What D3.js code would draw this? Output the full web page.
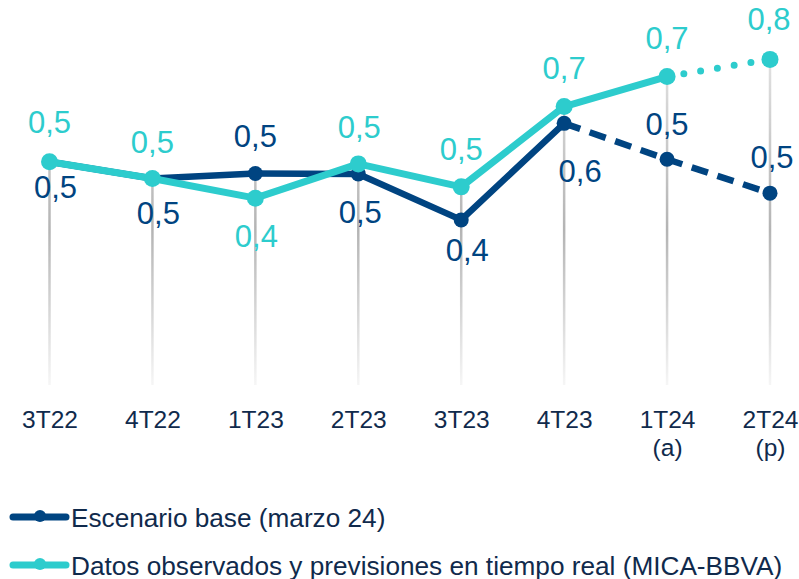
<!DOCTYPE html>
<html>
<head>
<meta charset="utf-8">
<script src="https://cdn.jsdelivr.net/npm/d3@7"></script>
<style>
  body { margin: 0; background: #fff; }
  svg { display: block; font-family: "Liberation Sans", Arial, sans-serif; }
</style>
</head>
<body>
<svg id="chart" width="799" height="579"></svg>
<script>
// quarters on the x axis (second line is the note under the label)
var quarters = ["3T22", "4T22", "1T23", "2T23", "3T23", "4T23", "1T24", "2T24"];
var quarterNotes = ["", "", "", "", "", "", "(a)", "(p)"];

// Escenario base (marzo 24)
var baseValues = [0.534, 0.494, 0.506, 0.505, 0.395, 0.626, 0.540, 0.459];
// Datos observados y previsiones en tiempo real (MICA-BBVA)
var micaValues = [0.534, 0.494, 0.447, 0.529, 0.474, 0.666, 0.738, 0.779];

var legendLabels = ["Escenario base (marzo 24)", "Datos observados y previsiones en tiempo real (MICA-BBVA)"];

// index where each series stops being solid
var baseSolidEnd = 5;
var micaSolidEnd = 6;

// label offsets (baseline relative to point), layout only
var baseLabelDy = [36, 45, -26, 49, 41, 59, -24, -25];
var baseLabelDx = [6, 6, 0, 2, 6, 16, 0, 2];
var micaLabelDy = [-29, -26, 49, -26, -27, -28, -28, -29];
var micaLabelDx = [0, 0, 1, 1, 0, 0, 0, -1];

var darkColor = "#004481";
var tealColor = "#2dcccd";
var textColor = "#102a4c";

var svg = d3.select("#chart");

var x = d3.scalePoint()
    .domain(quarters)
    .range([49.5, 770]);

var y = d3.scaleLinear()
    .domain([0, 1])
    .range([385, -33]);

var fmt = function (v) {
    return d3.format(".1f")(v).replace(".", ",");
};

// gradient for the drop lines
var defs = svg.append("defs");
var grad = defs.append("linearGradient")
    .attr("id", "dropGrad")
    .attr("gradientUnits", "userSpaceOnUse")
    .attr("x1", 0).attr("x2", 0)
    .attr("y1", 40).attr("y2", y(0));
grad.append("stop").attr("offset", "0%").attr("stop-color", "#e6e6e6");
grad.append("stop").attr("offset", "55%").attr("stop-color", "#b4b4b4");
grad.append("stop").attr("offset", "100%").attr("stop-color", "#f6f6f6");

// drop lines from the highest point of each quarter
svg.append("g")
    .selectAll("line")
    .data(quarters)
    .enter()
    .append("line")
    .attr("x1", function (d) { return x(d); })
    .attr("x2", function (d) { return x(d); })
    .attr("y1", function (d, i) { return y(Math.max(baseValues[i], micaValues[i])); })
    .attr("y2", y(0))
    .attr("stroke", "url(#dropGrad)")
    .attr("stroke-width", 2.5);

// x axis labels
var xAxis = d3.axisBottom(x).tickSize(0).tickPadding(0);
var axisG = svg.append("g")
    .attr("transform", "translate(0,428)")
    .call(xAxis);
axisG.select(".domain").remove();
axisG.selectAll("text").remove();
axisG.selectAll(".tick").each(function (d, i) {
    var t = d3.select(this).append("text")
        .attr("fill", textColor)
        .attr("font-size", 24.5)
        .attr("text-anchor", "middle");
    t.append("tspan").attr("x", 0).attr("y", 0).text(d);
    if (quarterNotes[i]) {
        t.append("tspan").attr("x", 0).attr("y", 28).text(quarterNotes[i]);
    }
});

function drawSeries(values, solidEnd, color, width, radius, dash, lineCap) {
    var pts = values.map(function (v, i) { return [x(quarters[i]), y(v)]; });
    var line = d3.line();
    var g = svg.append("g");

    g.append("path")
        .attr("d", line(pts.slice(0, solidEnd + 1)))
        .attr("fill", "none")
        .attr("stroke", color)
        .attr("stroke-width", width)
        .attr("stroke-linejoin", "round");

    g.append("path")
        .attr("d", line(pts.slice(solidEnd)))
        .attr("fill", "none")
        .attr("stroke", color)
        .attr("stroke-width", width)
        .attr("stroke-linecap", lineCap)
        .attr("stroke-dasharray", dash);

    g.selectAll("circle")
        .data(pts)
        .enter()
        .append("circle")
        .attr("cx", function (d) { return d[0]; })
        .attr("cy", function (d) { return d[1]; })
        .attr("r", radius)
        .attr("fill", color);
}

drawSeries(baseValues, baseSolidEnd, darkColor, 6.5, 7.5, "17,10", "butt");
drawSeries(micaValues, micaSolidEnd, tealColor, 7, 8.5, "0,17", "round");

function drawLabels(values, dx, dy, color) {
    svg.append("g")
        .selectAll("text")
        .data(values)
        .enter()
        .append("text")
        .attr("x", function (d, i) { return x(quarters[i]) + dx[i]; })
        .attr("y", function (d, i) { return y(d) + dy[i]; })
        .attr("text-anchor", "middle")
        .attr("font-size", 31)
        .attr("fill", color)
        .text(function (d) { return fmt(d); });
}

drawLabels(baseValues, baseLabelDx, baseLabelDy, darkColor);
drawLabels(micaValues, micaLabelDx, micaLabelDy, tealColor);

// legend
var legend = svg.append("g");
var legendColors = [darkColor, tealColor];
var legendY = [517, 565];

legendLabels.forEach(function (lab, i) {
    var row = legend.append("g").attr("transform", "translate(0," + legendY[i] + ")");
    row.append("line")
        .attr("x1", 13).attr("x2", 66)
        .attr("y1", 0).attr("y2", 0)
        .attr("stroke", legendColors[i])
        .attr("stroke-width", 7)
        .attr("stroke-linecap", "round");
    row.append("circle")
        .attr("cx", 40).attr("cy", -1)
        .attr("r", 6)
        .attr("fill", legendColors[i]);
    row.append("text")
        .attr("x", 71)
        .attr("y", 9.5)
        .attr("font-size", 26.2)
        .attr("fill", textColor)
        .text(lab);
});
</script>
</body>
</html>
